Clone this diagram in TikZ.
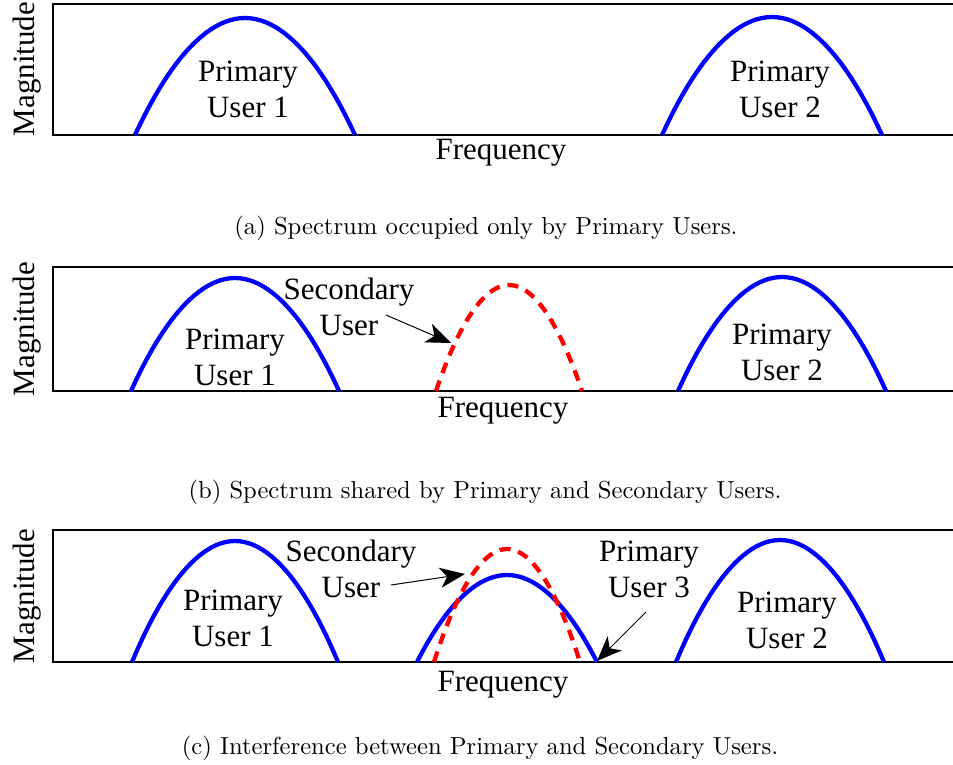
\documentclass[tikz,border=0pt]{standalone}
\usepackage{fontspec}
\newfontfamily\timesfont{Liberation Serif}
\newfontfamily\capfont{lmroman10-regular.otf}
\usetikzlibrary{arrows.meta}

\tikzset{
  frame/.style={line width=1.7pt},
  pu/.style={blue, line width=4.3pt},
  su/.style={red, line width=4.3pt, dash pattern=on 11pt off 8pt},
  lbl/.style={font=\timesfont\fontsize{31}{36}\selectfont, align=center, inner sep=0pt},
  axislbl/.style={font=\timesfont\fontsize{31}{36}\selectfont, inner sep=0pt},
  caption/.style={font=\capfont\fontsize{24.6}{29}\selectfont, inner sep=0pt, anchor=base},
  pointer/.style={line width=1pt, -{Stealth[length=25pt,width=20pt,inset=7pt]}}
}

\begin{document}
\begin{tikzpicture}[x=1pt, y=-1pt]
\useasboundingbox (0,0) rectangle (953,765);

% ---------- (a) only primary users ----------
\draw[frame] (953,4) -- (53,4) -- (53,135) -- (953,135);
\draw[pu] (135,135) parabola bend (245,18) (355,135);
\draw[pu] (662,135) parabola bend (772,17) (882,135);
\node[lbl] (a-pu1) at (248,89) {Primary\\User 1};
\node[lbl] (a-pu2) at (780,89) {Primary\\User 2};
\node[axislbl, rotate=90] (a-mag) at (27,69) {Magnitude};
\node[axislbl, anchor=base] (a-freq) at (501,160) {Frequency};
\node[caption] (a-cap) at (486,234) {(a) Spectrum occupied only by Primary Users.};

% ---------- (b) shared spectrum ----------
\draw[frame] (953,267) -- (53,267) -- (53,391) -- (953,391);
\draw[pu] (131,391) parabola bend (235,278) (339,391);
\draw[su] (436,391) parabola bend (509,285) (582,391);
\draw[pu] (678,391) parabola bend (782,277) (886,391);
\node[lbl] (b-pu1) at (235,357) {Primary\\User 1};
\node[lbl] (b-su) at (349,307) {Secondary\\User};
\node[lbl] (b-pu2) at (782,352) {Primary\\User 2};
\node[axislbl, rotate=90] (b-mag) at (27,329) {Magnitude};
\node[axislbl, anchor=base] (b-freq) at (503,417) {Frequency};
\node[caption] (b-cap) at (485,498) {(b) Spectrum shared by Primary and Secondary Users.};
\coordinate (b-su-tail) at (386,315);
\coordinate (b-su-tip) at (451,343);
\draw[pointer] (b-su-tail) -- (b-su-tip);

% ---------- (c) interference ----------
\draw[frame] (953,530) -- (53,530) -- (53,662) -- (953,662);
\draw[pu] (132,662) parabola bend (235,541) (338,662);
\draw[pu] (417,662) parabola bend (507,575) (597,662);
\draw[su] (434,662) parabola bend (507,549) (580,662);
\draw[pu] (676,662) parabola bend (780,540) (884,662);
\node[lbl] (c-pu1) at (233,618) {Primary\\User 1};
\node[lbl] (c-su) at (351,569) {Secondary\\User};
\node[lbl] (c-pu3) at (649,569) {Primary\\User 3};
\node[lbl] (c-pu2) at (787,620) {Primary\\User 2};
\node[axislbl, rotate=90] (c-mag) at (27,596) {Magnitude};
\node[axislbl, anchor=base] (c-freq) at (503,691) {Frequency};
\node[caption] (c-cap) at (480,754) {(c) Interference between Primary and Secondary Users.};
\coordinate (c-su-tail) at (391,585);
\coordinate (c-su-tip) at (465,574);
\coordinate (c-pu3-tail) at (646,612);
\coordinate (c-pu3-tip) at (597,661);
\draw[pointer] (c-su-tail) -- (c-su-tip);
\draw[pointer] (c-pu3-tail) -- (c-pu3-tip);
\end{tikzpicture}
\end{document}
